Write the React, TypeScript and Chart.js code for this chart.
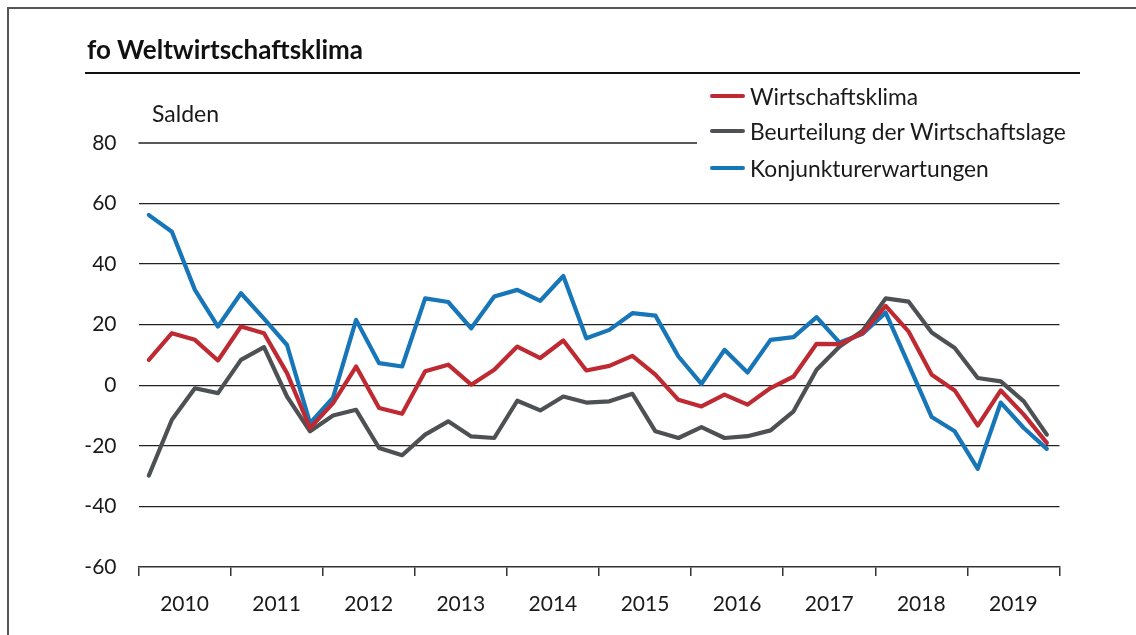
import React, { useEffect, useRef } from "react";
import { Chart, registerables } from "chart.js";

Chart.register(...registerables);

// ---- data (quarterly, 2010 Q1 – 2019 Q4) ----
const years = [2010, 2011, 2012, 2013, 2014, 2015, 2016, 2017, 2018, 2019];
const quarters = ["Q1", "Q2", "Q3", "Q4"];
const quarterLabels = years.flatMap((y) => quarters.map((q) => `${y} ${q}`));

const wirtschaftsklima = [
  8.4, 17.2, 15.0, 8.2, 19.4, 17.2, 4.0, -14.1, -5.9, 6.2,
  -7.5, -9.4, 4.6, 6.8, 0.2, 5.1, 12.8, 9.0, 14.8, 4.9,
  6.4, 9.7, 3.5, -4.8, -7.0, -3.1, -6.4, -0.9, 2.9, 13.7,
  13.6, 17.2, 26.2, 17.7, 3.5, -1.7, -13.3, -1.7, -9.7, -19.0,
];
const beurteilungLage = [
  -29.8, -11.4, -1.0, -2.6, 8.4, 12.6, -3.7, -15.2, -10.0, -8.1,
  -20.7, -23.1, -16.3, -11.9, -16.9, -17.4, -5.1, -8.3, -3.7, -5.7,
  -5.3, -2.8, -15.2, -17.4, -13.8, -17.4, -16.8, -14.9, -8.6, 5.1,
  12.8, 18.0, 28.7, 27.6, 17.4, 12.3, 2.4, 1.3, -5.3, -16.3,
];
const konjunkturerwartungen = [
  56.2, 50.7, 31.5, 19.4, 30.4, 22.0, 13.3, -12.5, -4.1, 21.6,
  7.3, 6.2, 28.7, 27.5, 18.8, 29.3, 31.5, 27.9, 36.1, 15.5,
  18.3, 23.8, 23.0, 9.5, 0.5, 11.7, 4.2, 15.0, 15.9, 22.5,
  14.1, 17.0, 24.0, 6.8, -10.5, -15.2, -27.6, -5.7, -14.1, -21.0,
];
const yTicks = [-60, -40, -20, 0, 20, 40, 60, 80];

const seriesNames = [
  "Wirtschaftsklima",
  "Beurteilung der Wirtschaftslage",
  "Konjunkturerwartungen",
];
const seriesColors = ["#BF2A32", "#4E5154", "#1676B8"];

const FONT = "Lato, 'Noto Sans', sans-serif";

const toPoints = (vals: number[]) =>
  vals.map((v, i) => ({ x: years[0] + (i + 0.45) / 4, y: v }));

export default function App() {
  const canvasRef = useRef<HTMLCanvasElement | null>(null);

  useEffect(() => {
    const canvas = canvasRef.current;
    if (!canvas) return;

    const topLinePlugin = {
      id: "topLine",
      beforeDatasetsDraw(chart: any) {
        const { ctx, chartArea, scales } = chart;
        const y = scales.y.getPixelForValue(yTicks[yTicks.length - 1]);
        ctx.save();
        ctx.strokeStyle = "#222";
        ctx.lineWidth = 1.3;
        ctx.beginPath();
        ctx.moveTo(chartArea.left, y);
        ctx.lineTo(697, y);
        ctx.stroke();
        ctx.restore();
      },
    };

    const chart = new Chart(canvas, {
      type: "line",
      data: {
        labels: quarterLabels,
        datasets: [wirtschaftsklima, beurteilungLage, konjunkturerwartungen].map(
          (vals, k) => ({
            label: seriesNames[k],
            data: toPoints(vals),
            borderColor: seriesColors[k],
            backgroundColor: seriesColors[k],
            borderWidth: 4.2,
            pointRadius: 0,
            tension: 0,
            borderJoinStyle: "round" as const,
            borderCapStyle: "round" as const,
          })
        ),
      },
      plugins: [topLinePlugin],
      options: {
        responsive: false,
        animation: false,
        events: [],
        layout: { padding: { left: 0, right: 76.5, top: 143, bottom: 18 } },
        plugins: {
          legend: { display: false },
          tooltip: { enabled: false },
          title: { display: false },
        },
        scales: {
          x: {
            type: "linear",
            min: years[0],
            max: years[years.length - 1] + 1,
            afterBuildTicks: (scale: any) => {
              scale.ticks = [...years, years[years.length - 1] + 1].map((v) => ({ value: v }));
            },
            afterFit: (scale: any) => {
              scale.height = 50;
            },
            ticks: {
              autoSkip: false,
              maxRotation: 0,
              labelOffset: 46,
              padding: 16,
              color: "#1a1a1a",
              font: { family: FONT, size: 21 },
              callback: (v: any) => (v < years[years.length - 1] + 1 ? String(v) : ""),
            },
            grid: {
              display: true,
              drawOnChartArea: false,
              drawTicks: true,
              tickLength: 9,
              color: "#333",
              lineWidth: 1.5,
            },
            border: { display: true, color: "#333", width: 1.5 },
          },
          y: {
            type: "linear",
            min: yTicks[0],
            max: yTicks[yTicks.length - 1],
            afterBuildTicks: (scale: any) => {
              scale.ticks = yTicks.map((v) => ({ value: v }));
            },
            afterFit: (scale: any) => {
              scale.width = 138.5;
            },
            ticks: {
              padding: 22,
              color: "#1a1a1a",
              font: { family: FONT, size: 21 },
            },
            grid: {
              drawTicks: false,
              color: (c: any) =>
                c.tick && (c.tick.value === yTicks[yTicks.length - 1] || c.tick.value === yTicks[0])
                  ? "rgba(0,0,0,0)"
                  : "#222",
              lineWidth: 1.3,
            },
            border: { display: false },
          },
        },
      },
    });

    return () => chart.destroy();
  }, []);

  const legendTop = [96, 131, 168];

  return (
    <div
      style={{
        position: "absolute",
        left: 0,
        top: 0,
        width: 1136,
        height: 635,
        overflow: "hidden",
        background: "#fff",
        fontFamily: FONT,
        color: "#1a1a1a",
      }}
    >
      {/* frame */}
      <div style={{ position: "absolute", left: 7, top: 7, width: 1129, height: 1.5, background: "#555" }} />
      <div style={{ position: "absolute", left: 7, top: 7, width: 1.5, height: 628, background: "#555" }} />

      <canvas
        ref={canvasRef}
        width={1136}
        height={635}
        style={{ position: "absolute", left: 0, top: 0, width: 1136, height: 635 }}
      />

      {/* title */}
      <div
        style={{
          position: "absolute",
          left: 87,
          top: 33,
          fontSize: 26,
          fontWeight: 700,
          lineHeight: "32px",
          whiteSpace: "nowrap",
          color: "#111",
        }}
      >
        fo Weltwirtschaftsklima
      </div>
      <div style={{ position: "absolute", left: 85, top: 72, width: 995, height: 2, background: "#111" }} />

      {/* unit */}
      <div
        style={{
          position: "absolute",
          left: 152,
          top: 98,
          fontSize: 23,
          lineHeight: "30px",
          whiteSpace: "nowrap",
        }}
      >
        Salden
      </div>

      {/* legend */}
      {seriesNames.map((name, k) => (
        <div key={name}>
          <div
            style={{
              position: "absolute",
              left: 710,
              top: legendTop[k] - 2,
              width: 35,
              height: 4,
              borderRadius: 2,
              background: seriesColors[k],
            }}
          />
          <div
            style={{
              position: "absolute",
              left: 750,
              top: legendTop[k] - 15,
              fontSize: 22.8,
              lineHeight: "30px",
              whiteSpace: "nowrap",
            }}
          >
            {name}
          </div>
        </div>
      ))}
    </div>
  );
}
